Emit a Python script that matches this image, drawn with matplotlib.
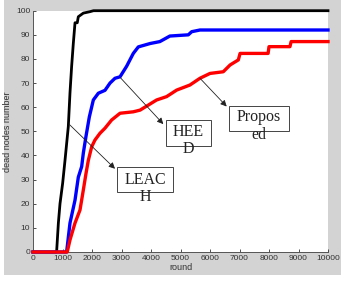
import matplotlib
matplotlib.use("Agg")
import matplotlib.pyplot as plt
from matplotlib.patches import Rectangle

# ---- data ----
leach_rounds = [0, 800, 860, 915, 1005, 1085, 1197, 1254, 1310, 1367, 1424, 1500, 1536, 1706, 1932, 2050, 10000]
leach_dead = [0, 0, 12, 20, 28.5, 38, 52, 66, 77, 86.5, 95, 95, 97.5, 99, 99.6, 100, 100]

heed_rounds = [0, 1140, 1254, 1424, 1536, 1650, 1706, 1797, 1910, 2045, 2215, 2440, 2610, 2780,
               2950, 3175, 3400, 3570, 3970, 4300, 4640, 5265, 5380, 5660, 10000]
heed_dead = [0, 0, 12, 21.5, 31, 35.4, 41, 48, 56, 63, 65.8, 67, 70, 72,
             72.6, 77, 82.3, 85, 86.4, 87.2, 89.5, 90, 91.3, 92, 92]

prop_rounds = [0, 1160, 1254, 1424, 1593, 1706, 1797, 1876, 1989, 2100, 2270, 2440, 2665, 2950,
               3400, 3630, 4190, 4530, 4870, 5320, 5660, 6000, 6450, 6680, 6960, 7020, 7970,
               8000, 8710, 8750, 10000]
prop_dead = [0, 0, 5, 12, 17.4, 25.7, 32.6, 38, 43.6, 46.4, 49.2, 51.3, 54.7, 57.5,
             58.1, 58.8, 63, 64.4, 67.1, 69.2, 72, 74, 74.7, 77.5, 79.6, 82.3, 82.3,
             85.1, 85.1, 87.2, 87.2]

x_ticks = list(range(0, 10001, 1000))
y_ticks = list(range(0, 101, 10))
x_label = "round"
y_label = "dead nodes number"

# ---- figure ----
W, H = 341, 283
fig = plt.figure(figsize=(W / 100, H / 100), dpi=100, facecolor="white")
bg = Rectangle((4 / W, (H - 275) / H), 1 - 4 / W, 275 / H,
               transform=fig.transFigure, facecolor="#d3d3d3",
               edgecolor="none", zorder=-10)
fig.patches.append(bg)

ax = fig.add_axes([33 / W, (H - 252) / H, 295 / W, 241.3 / H])
ax.set_zorder(1)
ax.set_facecolor("white")

ax.plot(leach_rounds, leach_dead, color="black", lw=2.0, clip_on=False, zorder=3)
ax.plot(heed_rounds, heed_dead, color="#0000ff", lw=2.4, clip_on=False, zorder=4)
ax.plot(prop_rounds, prop_dead, color="#ff0000", lw=2.4, clip_on=False, zorder=5)

ax.set_xlim(0, 10000)
ax.set_ylim(0, 100)
ax.set_xticks(x_ticks)
ax.set_yticks(y_ticks)
tick_font = dict(family="Liberation Sans", size=6)
ax.set_xticklabels([str(t) for t in x_ticks], **tick_font)
ax.set_yticklabels([str(t) for t in y_ticks], **tick_font)
ax.tick_params(direction="in", length=2, width=0.6, colors="#333333", pad=2)
for s in ("top", "right"):
    ax.spines[s].set_visible(False)
for s in ("left", "bottom"):
    ax.spines[s].set_color("#555555")
    ax.spines[s].set_linewidth(0.7)

ax.set_xlabel(x_label, family="Liberation Sans", size=6.5, color="#333333", labelpad=1)
ax.set_ylabel(y_label, family="Liberation Sans", size=6.5, color="#333333", labelpad=3)

# ---- annotation boxes ----
serif = dict(family="Liberation Serif", size=11.5, color="#222222")


def label_box(x0, x1, y0, y1, text, cx, cy):
    ax.add_patch(Rectangle((x0, y0), x1 - x0, y1 - y0, facecolor="white",
                           edgecolor="#444444", lw=0.7, zorder=6))
    ax.text(cx, cy, text, ha="center", va="center", linespacing=1.1,
            zorder=7, **serif)


def arrow(start, tip):
    ax.annotate("", xy=tip, xytext=start,
                arrowprops=dict(arrowstyle="-|>", color="#222222", lw=0.6,
                                mutation_scale=9, shrinkA=0, shrinkB=0),
                zorder=8)


arrow((1220, 53), (2780, 34.5))
label_box(2858, 4756, 25.0, 35.35, "LEAC\nH", 3807, 26.4)

arrow((2950, 72.4), (4417, 53.0))
label_box(4508, 6024, 44.05, 54.7, "HEE\nD", 5265, 46.1)

arrow((5660, 72.0), (6566, 60.3))
label_box(6654, 8668, 50.3, 60.5, "Propos\ned", 7640, 52.2)

fig.savefig("out.png", dpi=100, facecolor=fig.get_facecolor())
